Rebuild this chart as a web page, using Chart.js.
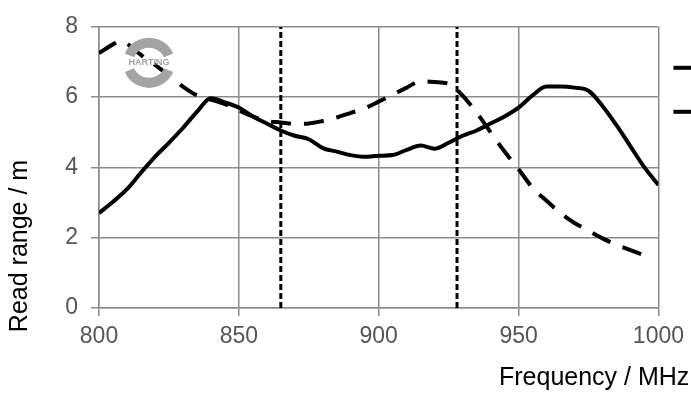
<!DOCTYPE html>
<html>
<head>
<meta charset="utf-8">
<script src="https://cdn.jsdelivr.net/npm/chart.js@4/dist/chart.umd.min.js"></script>
<style>
html,body{margin:0;padding:0;background:#fff;overflow:hidden;}
canvas{display:block;}
</style>
</head>
<body>
<canvas id="c" width="691" height="394"></canvas>
<script>
// ---- data ----
const xTicks = [800, 850, 900, 950, 1000];
const yTicks = [0, 2, 4, 6, 8];

const solidFreq  = [800,805,810,815,820,825,830,835,840,845,850,855,860,865,870,875,880,885,890,895,900,905,910,915,920,925,930,935,940,945,950,955,960,965,970,975,980,985,990,995,1000];
const solidRange = [2.7,3.02,3.38,3.85,4.3,4.7,5.12,5.58,5.97,5.85,5.7,5.45,5.25,5.05,4.9,4.8,4.55,4.45,4.35,4.3,4.33,4.35,4.5,4.62,4.53,4.7,4.9,5.05,5.25,5.45,5.7,6.05,6.3,6.3,6.27,6.18,5.75,5.2,4.6,4.0,3.5];

const dashedFreq  = [800,805,808,812,815,820,825,830,835,840,845,850,855,860,865,870,875,880,885,890,895,900,905,910,915,920,925,928,932,936,940,945,950,955,960,965,970,975,980,985,990,995];
const dashedRange = [7.25,7.5,7.6,7.4,7.2,6.92,6.62,6.3,6.05,5.93,5.8,5.62,5.45,5.32,5.28,5.24,5.25,5.32,5.42,5.55,5.68,5.87,6.07,6.27,6.45,6.43,6.38,6.2,5.86,5.45,5.0,4.45,3.95,3.42,3.05,2.7,2.42,2.2,1.98,1.8,1.65,1.5];

const bandEdges = [865, 928];
const bandSpan  = [0, 8];

const xTitle = 'Frequency / MHz';
const yTitle = 'Read range / m';
const logoText = 'HARTING';

// ---- build ----
const toPts = (xs, ys) => xs.map((x, i) => ({x: x, y: ys[i]}));
const GRID = '#8c8c8c';
const FONT = "'Liberation Sans', Arial, sans-serif";

const datasets = [
  {label: 'A', data: toPts(solidFreq, solidRange), borderColor: '#000', borderWidth: 4, cubicInterpolationMode: 'monotone', pointRadius: 0, fill: false},
  {label: 'B', data: toPts(dashedFreq, dashedRange), borderColor: '#000', borderWidth: 4, borderDash: [20, 13], cubicInterpolationMode: 'monotone', pointRadius: 0, fill: false}
];
bandEdges.forEach(f => datasets.push({
  label: 'band', data: bandSpan.map(v => ({x: f, y: v})), borderColor: '#000', borderWidth: 3,
  borderDash: [6, 3], pointRadius: 0, fill: false, tension: 0
}));

const decor = {
  id: 'decor',
  afterDraw(chart) {
    const ctx = chart.ctx, a = chart.chartArea;
    ctx.save();
    // axis titles
    ctx.fillStyle = '#000';
    ctx.font = '25px ' + FONT;
    ctx.textAlign = 'left';
    ctx.textBaseline = 'alphabetic';
    ctx.fillText(xTitle, 499, 385);
    ctx.save();
    ctx.translate(27, 246);
    ctx.rotate(-Math.PI / 2);
    ctx.textAlign = 'center';
    ctx.fillText(yTitle, 0, 0);
    ctx.restore();
    // logo
    const cx = a.left + 50, cy = a.top + 36;
    ctx.strokeStyle = '#a3a3a3';
    ctx.lineWidth = 10;
    ctx.beginPath(); ctx.ellipse(cx, cy, 21, 20, 0, Math.PI * 1.12, Math.PI * 1.88); ctx.stroke();
    ctx.beginPath(); ctx.ellipse(cx, cy, 21, 20, 0, Math.PI * 0.12, Math.PI * 0.88); ctx.stroke();
    ctx.fillStyle = '#a3a3a3';
    ctx.font = 'bold 9px ' + FONT;
    ctx.textAlign = 'center';
    ctx.textBaseline = 'middle';
    ctx.fillText(logoText, cx, cy);
    // legend samples (cut by the window edge)
    ctx.strokeStyle = '#000';
    ctx.lineWidth = 4;
    ctx.beginPath(); ctx.moveTo(a.right + 15, a.top + 41); ctx.lineTo(a.right + 40, a.top + 41); ctx.stroke();
    ctx.beginPath(); ctx.moveTo(a.right + 15, a.top + 85); ctx.lineTo(a.right + 40, a.top + 85); ctx.stroke();
    ctx.restore();
  }
};

new Chart(document.getElementById('c'), {
  type: 'line',
  data: {datasets: datasets},
  options: {
    responsive: false,
    animation: false,
    devicePixelRatio: 1,
    layout: {padding: {left: 0, top: 24, right: 31, bottom: 0}},
    plugins: {legend: {display: false}, tooltip: {enabled: false}},
    scales: {
      x: {
        type: 'linear', min: 800, max: 1000,
        afterBuildTicks: s => { s.ticks = xTicks.map(v => ({value: v})); },
        afterFit: s => { s.height = 86; },
        grid: {color: GRID, lineWidth: 1.5, tickLength: 8, drawTicks: true},
        border: {display: true, color: GRID, width: 1.5},
        ticks: {color: '#555', font: {family: FONT, size: 23}, padding: 7, maxRotation: 0, callback: v => String(v)}
      },
      y: {
        type: 'linear', min: 0, max: 8,
        afterBuildTicks: s => { s.ticks = yTicks.map(v => ({value: v})); },
        afterFit: s => { s.width = 99; },
        grid: {color: GRID, lineWidth: 1.5, tickLength: 8, drawTicks: true},
        border: {display: true, color: GRID, width: 1.5},
        ticks: {color: '#555', font: {family: FONT, size: 23}, padding: 13, callback: v => String(v)}
      }
    }
  },
  plugins: [decor]
});
</script>
</body>
</html>
